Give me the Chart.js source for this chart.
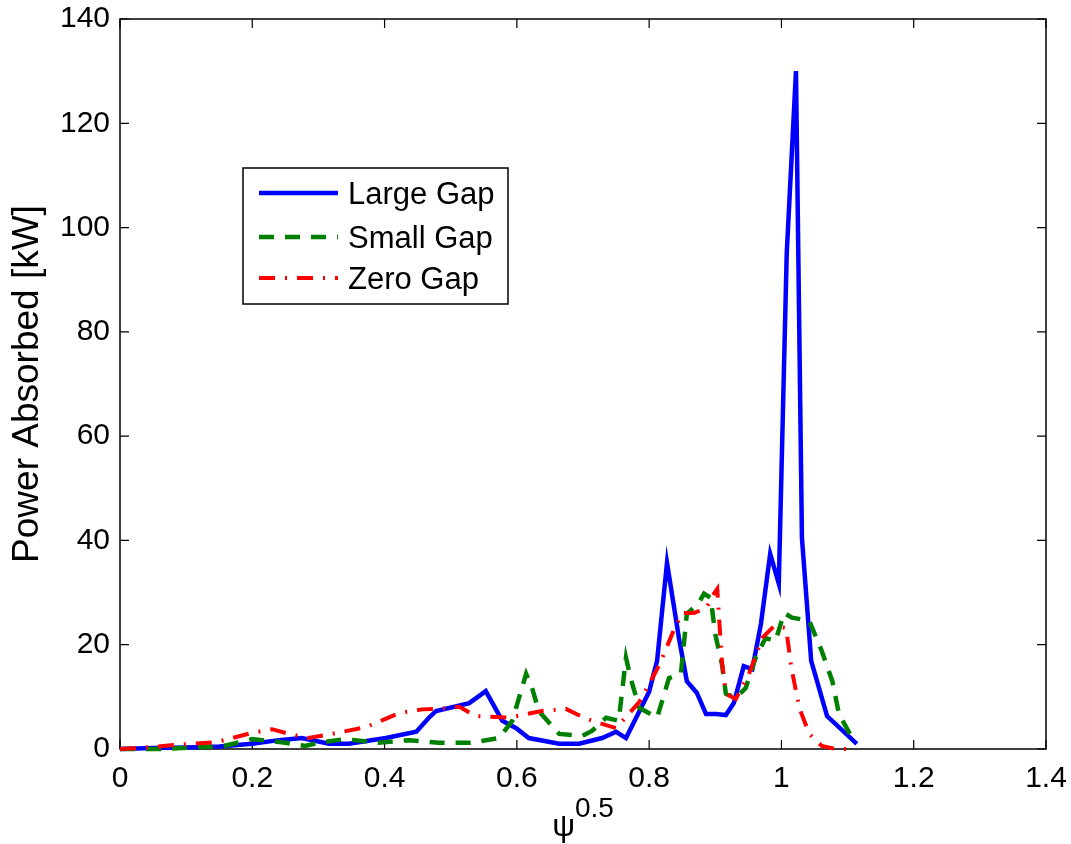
<!DOCTYPE html>
<html>
<head>
<meta charset="utf-8">
<title>Power Absorbed</title>
<script src="https://cdn.jsdelivr.net/npm/chart.js@4.4.0/dist/chart.umd.min.js"></script>
<style>
  body { margin: 0; background: #fff; }
  #wrap { width: 1071px; height: 844px; }
</style>
</head>
<body>
<div id="wrap"><canvas id="myChart" width="1071" height="844"></canvas></div>
<script>
// values
var seriesNames = ['Large Gap', 'Small Gap', 'Zero Gap'];

var largeX = [0, 0.05, 0.1, 0.15, 0.2, 0.24, 0.275, 0.316, 0.346, 0.402, 0.448, 0.467, 0.478, 0.528, 0.553, 0.578, 0.599, 0.618, 0.664, 0.694, 0.729, 0.75, 0.765, 0.8, 0.812, 0.827, 0.845, 0.857, 0.872, 0.886, 0.901, 0.916, 0.928, 0.943, 0.956, 0.969, 0.983, 0.996, 1.008, 1.022, 1.031, 1.045, 1.069, 1.114];
var largeY = [0, 0.2, 0.3, 0.5, 1.0, 1.7, 2.1, 1.0, 1.0, 2.1, 3.3, 6.0, 7.3, 8.8, 11.1, 5.4, 4.0, 2.1, 1.0, 1.0, 2.1, 3.3, 2.1, 11, 16.9, 35.7, 21.3, 13, 10.8, 6.7, 6.7, 6.5, 8.8, 15.9, 15.3, 24, 37.4, 31.7, 95, 130, 40.5, 16.9, 6.3, 1.0];

var smallX = [0, 0.06, 0.11, 0.155, 0.2, 0.25, 0.28, 0.3, 0.34, 0.39, 0.437, 0.482, 0.53, 0.573, 0.593, 0.614, 0.623, 0.633, 0.664, 0.699, 0.714, 0.735, 0.754, 0.765, 0.772, 0.785, 0.812, 0.83, 0.848, 0.857, 0.875, 0.883, 0.893, 0.9, 0.91, 0.916, 0.931, 0.946, 0.961, 0.976, 0.991, 1.004, 1.016, 1.042, 1.061, 1.077, 1.087, 1.107, 1.114];
var smallY = [0, 0, 0.3, 0.5, 1.9, 1.2, 0.6, 1.2, 1.9, 1.2, 1.7, 1.2, 1.2, 2.1, 5.4, 14.4, 11.7, 7.3, 2.9, 2.5, 3.5, 6, 5.4, 17.5, 13.6, 7.9, 6, 13.6, 14.4, 25.9, 28, 29.8, 29, 22, 16.3, 10.6, 9.8, 11.7, 17.5, 21.3, 20.7, 26.1, 25.2, 24.6, 18.8, 13, 6.7, 2.1, 1.5];

var zeroX = [0, 0.03, 0.085, 0.145, 0.2, 0.23, 0.255, 0.285, 0.32, 0.372, 0.422, 0.457, 0.482, 0.513, 0.538, 0.588, 0.638, 0.674, 0.705, 0.724, 0.75, 0.785, 0.815, 0.838, 0.85, 0.868, 0.886, 0.898, 0.903, 0.906, 0.91, 0.916, 0.931, 0.951, 0.971, 0.989, 1.007, 1.015, 1.027, 1.042, 1.061, 1.082, 1.113];
var zeroY = [0, 0.2, 0.8, 1.3, 3.1, 3.8, 2.9, 2.1, 2.9, 4.2, 6.9, 7.6, 7.7, 8.1, 6.3, 6, 7.3, 7.7, 5.8, 5, 4, 9, 16, 23, 26.1, 26.1, 27, 29.8, 30.7, 24.6, 16.9, 10.6, 9.6, 14.4, 21.3, 23.6, 23.2, 15.6, 7.9, 2.9, 0.6, 0, 0];

var xTicks = [0, 0.2, 0.4, 0.6, 0.8, 1.0, 1.2, 1.4];
var yTicks = [0, 20, 40, 60, 80, 100, 120, 140];

var FONT = '"Liberation Sans", Arial, Helvetica, sans-serif';

function toPoints(xs, ys) {
    var pts = [];
    for (var i = 0; i < xs.length; i++) pts.push({x: xs[i], y: ys[i]});
    return pts;
}

// box round the axes with inward ticks on all four sides, like matlab
var boxPlugin = {
    id: 'boxPlugin',
    beforeDatasetsDraw: function (chart) {
        var ctx = chart.ctx, a = chart.chartArea;
        var xs = chart.scales.x, ys = chart.scales.y;
        var tl = 9;
        ctx.save();
        ctx.strokeStyle = '#000';
        ctx.lineWidth = 1.5;
        ctx.strokeRect(a.left, a.top, a.right - a.left, a.bottom - a.top);
        ctx.lineWidth = 1.2;
        ctx.beginPath();
        xTicks.forEach(function (v) {
            var px = xs.getPixelForValue(v);
            ctx.moveTo(px, a.bottom); ctx.lineTo(px, a.bottom - tl);
            ctx.moveTo(px, a.top); ctx.lineTo(px, a.top + tl);
        });
        yTicks.forEach(function (v) {
            var py = ys.getPixelForValue(v);
            ctx.moveTo(a.left, py); ctx.lineTo(a.left + tl, py);
            ctx.moveTo(a.right, py); ctx.lineTo(a.right - tl, py);
        });
        ctx.stroke();
        ctx.restore();
    }
};

var titlePlugin = {
    id: 'titlePlugin',
    afterDraw: function (chart) {
        var ctx = chart.ctx, a = chart.chartArea;
        ctx.save();
        ctx.fillStyle = '#000';
        // x title: psi with superscript 0.5
        var mainFont = '32px ' + FONT, supFont = '28px ' + FONT;
        ctx.font = mainFont;
        var w1 = ctx.measureText('\u03c8').width;
        ctx.font = supFont;
        var w2 = ctx.measureText('0.5').width;
        var cx = (a.left + a.right) / 2;
        var x0 = cx - (w1 + w2) / 2;
        ctx.textBaseline = 'alphabetic';
        ctx.textAlign = 'left';
        ctx.font = mainFont;
        ctx.fillText('\u03c8', x0, 836);
        ctx.font = supFont;
        ctx.fillText('0.5', x0 + w1, 817);

        // legend
        var lx = 243, ly = 168, lw = 265, lh = 136;
        ctx.fillStyle = '#fff';
        ctx.fillRect(lx, ly, lw, lh);
        ctx.strokeStyle = '#000';
        ctx.lineWidth = 1.5;
        ctx.strokeRect(lx, ly, lw, lh);
        var rows = [193, 237, 278];
        ctx.font = '31px ' + FONT;
        ctx.textBaseline = 'middle';
        chart.data.datasets.forEach(function (ds, i) {
            ctx.save();
            ctx.strokeStyle = ds.borderColor;
            ctx.lineWidth = ds.borderWidth;
            ctx.setLineDash(ds.borderDash || []);
            ctx.beginPath();
            ctx.moveTo(259, rows[i]);
            ctx.lineTo(338, rows[i]);
            ctx.stroke();
            ctx.restore();
            ctx.fillStyle = '#000';
            ctx.fillText(ds.label, 348, rows[i] + 2);
        });
        ctx.restore();
    }
};

var ctx = document.getElementById('myChart').getContext('2d');
var myChart = new Chart(ctx, {
    type: 'scatter',
    data: {
        datasets: [{
            label: seriesNames[0],
            data: toPoints(largeX, largeY),
            borderColor: '#0000ff',
            borderWidth: 4.5,
            order: 3
        }, {
            label: seriesNames[1],
            data: toPoints(smallX, smallY),
            borderColor: '#008000',
            borderWidth: 4.5,
            borderDash: [15, 11],
            order: 2
        }, {
            label: seriesNames[2],
            data: toPoints(zeroX, zeroY),
            borderColor: '#ff0000',
            borderWidth: 4,
            borderDash: [16, 10, 2, 10],
            order: 1
        }]
    },
    options: {
        responsive: false,
        animation: false,
        devicePixelRatio: 1,
        showLine: true,
        clip: false,
        elements: {
            point: { radius: 0, hoverRadius: 0 },
            line: { tension: 0, borderCapStyle: 'butt', borderJoinStyle: 'miter' }
        },
        layout: { padding: { top: 19, right: 25, left: 0, bottom: 0 } },
        plugins: {
            legend: { display: false },
            tooltip: { enabled: false }
        },
        scales: {
            x: {
                type: 'linear',
                min: 0,
                max: 1.4,
                grid: { display: false, drawTicks: false },
                border: { display: false },
                afterBuildTicks: function (scale) {
                    scale.ticks = xTicks.map(function (v) { return {value: v}; });
                },
                ticks: {
                    color: '#000',
                    font: { family: FONT, size: 30 },
                    padding: 12,
                    maxRotation: 0,
                    callback: function (v) { return String(+v.toFixed(1)); }
                },
                afterFit: function (scale) {
                    scale.height = 95;
                    scale.paddingLeft = 0;
                    scale.paddingRight = 0;
                }
            },
            y: {
                type: 'linear',
                min: 0,
                max: 140,
                grid: { display: false, drawTicks: false },
                border: { display: false },
                afterBuildTicks: function (scale) {
                    scale.ticks = yTicks.map(function (v) { return {value: v}; });
                },
                ticks: {
                    color: '#000',
                    font: { family: FONT, size: 30 },
                    padding: 10
                },
                title: {
                    display: true,
                    text: 'Power Absorbed [kW]',
                    color: '#000',
                    font: { family: FONT, size: 37 },
                    padding: { top: 6, bottom: 0 }
                },
                afterFit: function (scale) {
                    scale.width = 120;
                    scale.paddingTop = 0;
                    scale.paddingBottom = 0;
                }
            }
        }
    },
    plugins: [boxPlugin, titlePlugin]
});
</script>
</body>
</html>
